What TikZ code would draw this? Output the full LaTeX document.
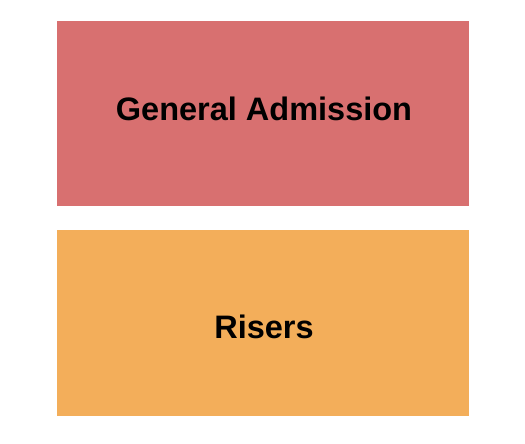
\documentclass[tikz,border=0pt]{standalone}
\usepackage{fontspec}
\setmainfont{Liberation Sans}
\usepackage{xcolor}
\definecolor{GAred}{HTML}{D87070}
\definecolor{RiserOrange}{HTML}{F3AE5A}
\tikzset{
  section/.style={inner sep=0pt, anchor=base, font=\bfseries\fontsize{32.5}{39}\selectfont, text=black}
}
\begin{document}
\begin{tikzpicture}[x=1pt,y=-1pt]
\useasboundingbox (0,0) rectangle (525,444);
%TOP
\fill[GAred] (57,21) rectangle (469,205.5);
\node[section] (ga) at (264,121) {General Admission};
%BOT
\fill[RiserOrange] (57,230) rectangle (469,415.5);
\node[section] (risers) at (264,338.3) {Risers};
\end{tikzpicture}
\end{document}
